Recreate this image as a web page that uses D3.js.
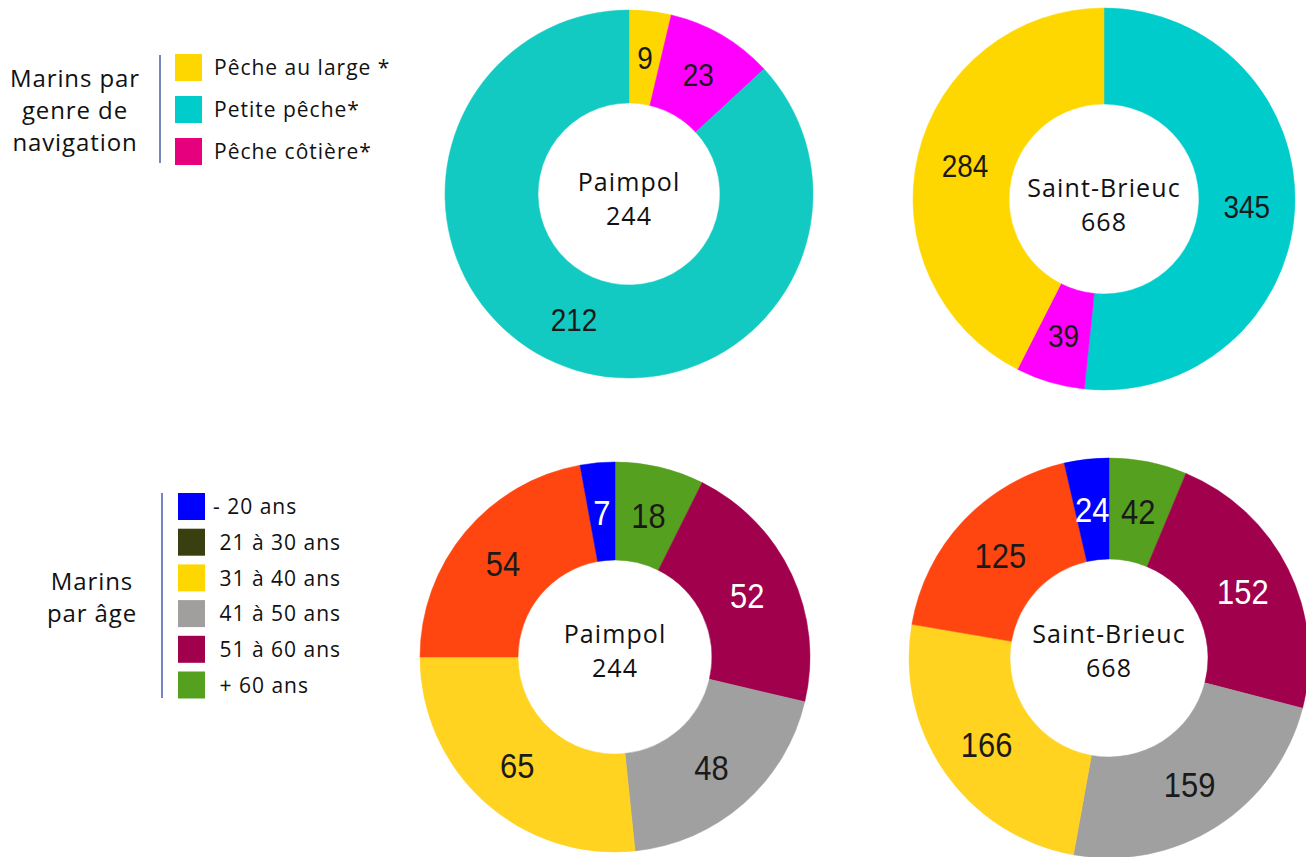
<!DOCTYPE html>
<html>

<head>
  <meta charset="utf-8">
  <title>marins-donuts</title>
  <style>
    * {
      padding: 0;
      margin: 0;
    }

    body {
      background: #fff;
    }

    .center-text {
      font-family: 'Open Sans', sans-serif;
      font-size: 25px;
      letter-spacing: 1.1px;
      fill: #111;
      text-anchor: middle;
    }

    .slice-label {
      font-family: 'Liberation Sans', Arial, sans-serif;
      text-anchor: middle;
    }

    .legend-title {
      font-family: 'Open Sans', sans-serif;
      font-size: 24px;
      letter-spacing: 0.9px;
      fill: #111;
      text-anchor: middle;
    }

    .legend-text {
      font-family: 'Open Sans', sans-serif;
      font-size: 21px;
      letter-spacing: 1px;
      fill: #111;
    }
  </style>
</head>

<body>
  <svg id="svg"></svg>
  <script src="https://cdnjs.cloudflare.com/ajax/libs/d3/7.8.5/d3.min.js"></script>
  <script>
    // genre de navigation
    const navCategories = ['Pêche au large *', 'Petite pêche*', 'Pêche côtière*'];
    const navLegendColors = ['#FFD700', '#00CCCC', '#E6007E'];
    const navPaimpol = [9, 212, 23];
    const navStBrieuc = [284, 345, 39];
    // clockwise order of the slices (index into navCategories)
    const navPaimpolOrder = [0, 2, 1];
    const navStBrieucOrder = [1, 2, 0];
    const navPaimpolColors = ['#FFD700', '#13CAC2', '#FF00FF'];
    const navStBrieucColors = ['#FFD700', '#00CCCC', '#FF00FF'];

    // age
    const ageCategories = ['- 20 ans', ' 21 à 30 ans', ' 31 à 40 ans', ' 41 à 50 ans', ' 51 à 60 ans', ' + 60 ans'];
    const ageLegendColors = ['#0000FF', '#3A3F0F', '#FFD700', '#A09F9E', '#A0004C', '#56A01F'];
    const ageSliceColors = ['#0000FF', '#FF4510', '#FFD320', '#A0A0A0', '#A0004C', '#56A01F'];
    const agePaimpol = [7, 54, 65, 48, 52, 18];
    const ageStBrieuc = [24, 125, 166, 159, 152, 42];
    const ageOrder = [5, 4, 3, 2, 1, 0];
    const ageWhiteLabels = [0, 4];

    const width = 1306, height = 857;
    const svg = d3.select('#svg').attr('width', width).attr('height', height);

    const charts = [
      { name: 'Paimpol', values: navPaimpol, order: navPaimpolOrder, colors: navPaimpolColors, white: [],
        cx: 629, cy: 194, r: 184, r0: 91, fs: 31, sx: 0.9, t1: -3, t2: 31 },
      { name: 'Saint-Brieuc', values: navStBrieuc, order: navStBrieucOrder, colors: navStBrieucColors, white: [],
        cx: 1104, cy: 199, r: 191, r0: 95, fs: 31, sx: 0.9, t1: -2, t2: 32 },
      { name: 'Paimpol', values: agePaimpol, order: ageOrder, colors: ageSliceColors, white: ageWhiteLabels,
        cx: 615, cy: 657, r: 195, r0: 97, fs: 36, sx: 0.86, t1: -14, t2: 20 },
      { name: 'Saint-Brieuc', values: ageStBrieuc, order: ageOrder, colors: ageSliceColors, white: ageWhiteLabels,
        cx: 1109, cy: 658, r: 200, r0: 99, fs: 36, sx: 0.86, t1: -15, t2: 19 }
    ];

    const pie = d3.pie().sort(null).value(d => d.value);

    charts.forEach(c => {
      const data = c.order.map(i => ({ idx: i, value: c.values[i] }));
      const total = d3.sum(c.values);
      const arc = d3.arc().innerRadius(c.r0).outerRadius(c.r);
      const g = svg.append('g').attr('transform', `translate(${c.cx},${c.cy})`);

      const arcs = pie(data);
      g.selectAll('path')
        .data(arcs)
        .enter()
        .append('path')
        .attr('d', arc)
        .attr('fill', d => c.colors[d.data.idx])
        .attr('stroke', d => c.colors[d.data.idx])
        .attr('stroke-width', 0.5);

      g.selectAll('.slice-label')
        .data(arcs)
        .enter()
        .append('text')
        .attr('class', 'slice-label')
        .attr('transform', d => {
          const [x, y] = arc.centroid(d);
          return `translate(${x},${y}) scale(${c.sx},1)`;
        })
        .attr('dy', '0.36em')
        .style('font-size', c.fs + 'px')
        .attr('fill', d => c.white.includes(d.data.idx) ? '#fff' : '#1a1a1a')
        .text(d => d.data.value);

      g.append('text').attr('class', 'center-text').attr('y', c.t1).text(c.name);
      g.append('text').attr('class', 'center-text').attr('y', c.t2).text(total);
    });

    // legends
    function drawLegend(titleLines, titleX, titleY0, lineH, lineX, lineY0, lineY1, boxX, boxY0, step, cats, colors, textX) {
      const lg = svg.append('g');
      titleLines.forEach((t, i) => {
        lg.append('text').attr('class', 'legend-title')
          .attr('x', titleX).attr('y', titleY0 + i * lineH).text(t);
      });
      lg.append('line')
        .attr('x1', lineX).attr('x2', lineX)
        .attr('y1', lineY0).attr('y2', lineY1)
        .attr('stroke', '#4a5ea8').attr('stroke-width', 1.5);
      cats.forEach((cat, i) => {
        lg.append('rect')
          .attr('x', boxX).attr('y', boxY0 + i * step)
          .attr('width', 27).attr('height', 27)
          .attr('fill', colors[i]);
        lg.append('text').attr('class', 'legend-text')
          .attr('x', textX).attr('y', boxY0 + i * step + 14)
          .attr('dy', '0.35em')
          .style('white-space', 'pre')
          .text(cat);
      });
    }

    drawLegend(['Marins par', 'genre de', 'navigation'], 75, 87, 32, 160, 55, 163, 175, 54, 42, navCategories, navLegendColors, 214);
    drawLegend(['Marins', 'par âge'], 92, 590, 32, 162, 493, 698, 178, 493, 35.7, ageCategories, ageLegendColors, 213);
  </script>
</body>

</html>
